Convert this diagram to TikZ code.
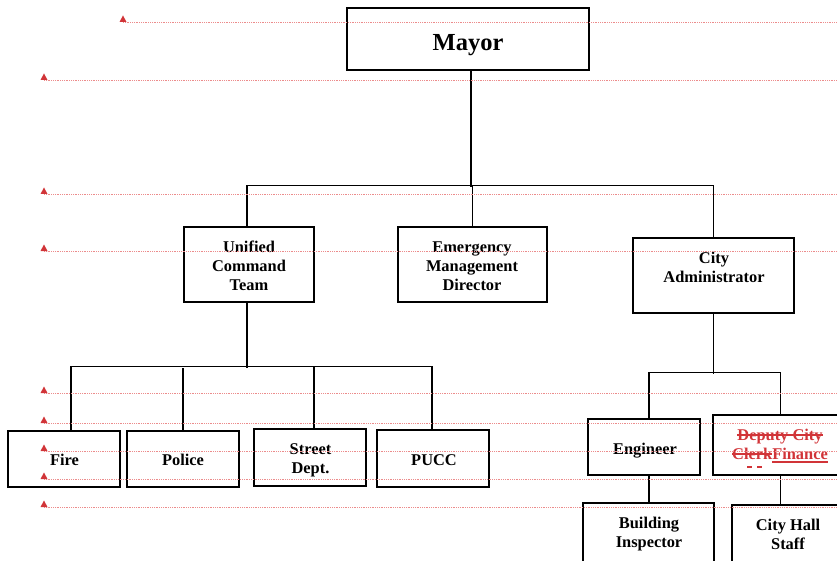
\documentclass[tikz,border=0pt]{standalone}
\usepackage{fontspec}
\setmainfont{Liberation Serif}
\newcommand\strk[1]{\setbox0\hbox{#1}\rlap{\rule[0.27em]{\wd0}{1.3pt}}\box0}
\newcommand\undl[1]{\setbox0\hbox{#1}\rlap{\rule[-0.22em]{\wd0}{1.6pt}}\box0}
\definecolor{tcred}{RGB}{209,52,56}
\definecolor{tcline}{RGB}{236,140,140}
\begin{document}
\begin{tikzpicture}[x=1pt,y=-1pt,
  box/.style={draw, line width=1.3pt, inner sep=0pt},
  lbl/.style={font=\bfseries\fontsize{16.4}{19}\selectfont, align=center, anchor=base, inner sep=0pt},
  conn/.style={line width=1.3pt},
  chgline/.style={tcline, line width=0.6pt, dash pattern=on 1pt off 0.8pt}]
\useasboundingbox (0,0) rectangle (837,561);
\clip (0,0) rectangle (837,561);
% boxes
\node[box, minimum width=242, minimum height=62] (mayor) at (468,39) {};
\node[box, minimum width=130, minimum height=75] (uct) at (249,264.5) {};
\node[box, minimum width=149, minimum height=75] (emd) at (472.5,264.5) {};
\node[box, minimum width=161, minimum height=75] (ca) at (713.5,275.5) {};
\node[box, minimum width=112, minimum height=56] (fire) at (64,459) {};
\node[box, minimum width=112, minimum height=56] (police) at (183,459) {};
\node[box, minimum width=112, minimum height=57] (street) at (310,457.5) {};
\node[box, minimum width=112, minimum height=57] (pucc) at (433,458.5) {};
\node[box, minimum width=112, minimum height=56] (eng) at (644,447) {};
\node[box, minimum width=135, minimum height=60] (fin) at (780.5,445) {};
\node[box, minimum width=131, minimum height=97] (bi) at (648.5,551.5) {};
\node[box, minimum width=112, minimum height=95] (chs) at (788,552.5) {};
% labels (anchor = baseline of last line)
\node[lbl, font=\bfseries\fontsize{24.5}{28}\selectfont] (tmayor) at (468,51) {Mayor};
\node[lbl] (tuct) at (249,290) {Unified\\Command\\Team};
\node[lbl] (temd) at (472,290) {Emergency\\Management\\Director};
\node[lbl] (tca) at (714,282) {City\\Administrator};
\node[lbl] (tfire) at (64.5,465) {Fire};
\node[lbl] (tpolice) at (183,465) {Police};
\node[lbl] (tstreet) at (310.5,473) {Street\\Dept.};
\node[lbl] (tpucc) at (434,465) {PUCC};
\node[lbl] (teng) at (645,454) {Engineer};
\node[lbl, text=tcred] (tfin) at (780,459) {\strk{Deputy City}\\\strk{Clerk}\undl{Finance}};
\node[lbl] (tbi) at (649,547) {Building\\Inspector};
\node[lbl] (tchs) at (788,549) {City Hall\\Staff};
% connectors
\draw[conn] ([xshift=3]mayor.south) -- ++(0,116);
\draw[conn] ([xshift=-2]uct.north) -- ++(0,-41) -| (ca.north);
\draw[conn] (emd.north) -- ++(0,-41);
\draw[conn] ([xshift=-2]uct.south) -- ++(0,65);
\draw[conn] ([xshift=7]fire.north) -- ++(0,-64) -| ([xshift=-1]pucc.north);
\draw[conn] (police.north) -- ++(0,-62);
\draw[conn] ([xshift=4]street.north) -- ++(0,-62);
\draw[conn] (ca.south) -- ++(0,60);
\draw[conn] ([xshift=5]eng.north) -- ++(0,-46) -| (fin.north);
\draw[conn] ([xshift=5]eng.south) -- ++(0,28);
\draw[conn] (fin.south) -- ++(0,30);
% small red dashes under Finance
\draw[tcred, line width=1.2pt] (747,467) -- (752,467) (757,467) -- (762,467);
% tracked-change marker lines
\foreach \yy/\xx in {22/123, 80/44, 194/44, 251/44, 393/44, 423/44, 451/44, 479/44, 507/44} {
  \draw[chgline] (\xx,\yy) -- (837,\yy);
  \fill[tcred] (\xx-3.5,\yy) -- (\xx+3.5,\yy) -- (\xx,\yy-6.5) -- cycle;
}
\end{tikzpicture}
\end{document}
